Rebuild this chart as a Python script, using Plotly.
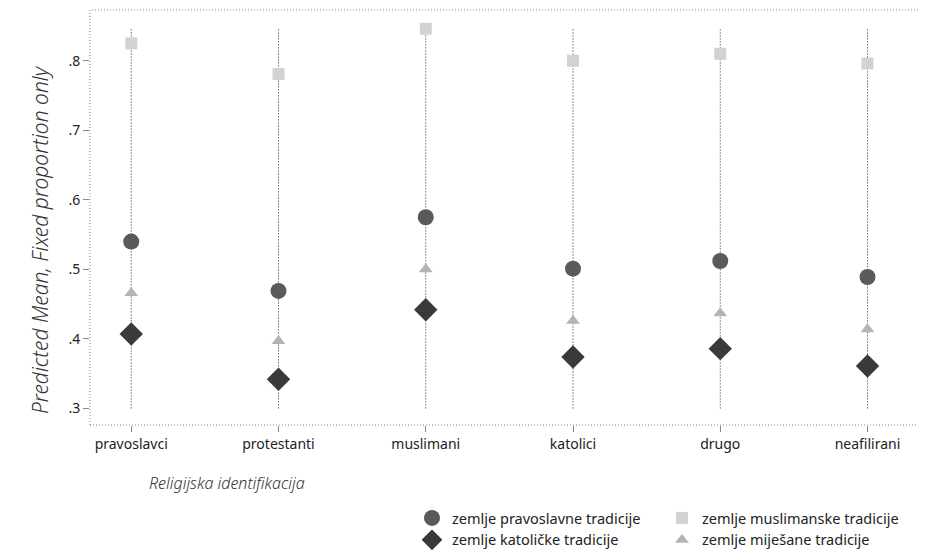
import plotly.graph_objects as go

categories = ["pravoslavci", "protestanti", "muslimani", "katolici", "drugo", "neafilirani"]
pravoslavne = [0.540, 0.469, 0.575, 0.501, 0.512, 0.489]
muslimanske = [0.825, 0.781, 0.846, 0.800, 0.810, 0.796]
katolicke = [0.407, 0.342, 0.442, 0.374, 0.386, 0.361]
mjesane = [0.466, 0.397, 0.500, 0.426, 0.437, 0.414]
line_low = 0.30
line_high = 0.846
ytick_vals = [0.3, 0.4, 0.5, 0.6, 0.7, 0.8]
ytick_text = [".3", ".4", ".5", ".6", ".7", ".8"]

FONT = "Noto Sans"
W, H = 918, 544  # page body has an 8px margin
fig = go.Figure()

# dotted vertical drop lines
lx, ly = [], []
for c in categories:
    lx += [c, c, None]
    ly += [line_low, line_high, None]
fig.add_trace(go.Scatter(x=lx, y=ly, mode="lines", showlegend=False, hoverinfo="skip",
                         line=dict(color="#222222", width=1, dash="1px,2px")))

series = [
    ("zemlje pravoslavne tradicije", pravoslavne, "circle", 16, "#5a5a5a", "legend"),
    ("zemlje katoličke tradicije", katolicke, "diamond", 18, "#3a3a3a", "legend"),
    ("zemlje muslimanske tradicije", muslimanske, "square", 12, "#d2d2d2", "legend2"),
    ("zemlje miješane tradicije", mjesane, "triangle-up", 12, "#b4b4b4", "legend2"),
]
for name, vals, sym, size, col, leg in series:
    fig.add_trace(go.Scatter(x=categories, y=vals, mode="markers", name=name, legend=leg,
                             marker=dict(symbol=sym, size=size, color=col,
                                         line=dict(width=0))))

fig.add_shape(type="rect", xref="paper", yref="paper", x0=0, y0=0, x1=1, y1=1,
              line=dict(color="#888888", width=1, dash="1px,2px"), layer="below")

legend_common = dict(orientation="v", xanchor="left", yanchor="top", y=(H - 494) / H,
                     xref="container", yref="container",
                     itemwidth=30, font=dict(size=14.5), tracegroupgap=0,
                     bgcolor="rgba(0,0,0,0)")
fig.update_layout(
    width=W, height=H,
    margin=dict(l=82, r=4, t=2, b=127, autoexpand=False),
    paper_bgcolor="white", plot_bgcolor="white",
    font=dict(family=FONT, size=14, color="#222222"),
    xaxis=dict(type="category", range=[-0.28, 5.37], showgrid=False, zeroline=False,
               showline=False, ticks="outside", ticklen=6, tickcolor="#888888",
               tickfont=dict(size=14), automargin=False),
    yaxis=dict(range=[0.2762, 0.873], showgrid=False, zeroline=False, showline=False,
               tickvals=ytick_vals, ticktext=ytick_text, ticks="outside", ticklen=6,
               tickcolor="#888888", tickfont=dict(size=14), automargin=False),
    legend=dict(x=404 / W, **legend_common),
    legend2=dict(x=654 / W, **legend_common),
    showlegend=True,
)
fig.add_annotation(text="Predicted Mean, Fixed proportion only", xref="paper", yref="paper",
                   x=-0.060, y=0.446, xanchor="center", yanchor="middle", textangle=-90,
                   showarrow=False,
                   font=dict(size=21, style="italic", weight=300, color="#333333"))
fig.add_annotation(text="Religijska identifikacija", xref="paper", yref="paper",
                   x=0.068, y=-0.14, xanchor="left", yanchor="middle", showarrow=False,
                   font=dict(size=16, style="italic", weight=300, color="#333333"))

fig.write_html("out.html")
